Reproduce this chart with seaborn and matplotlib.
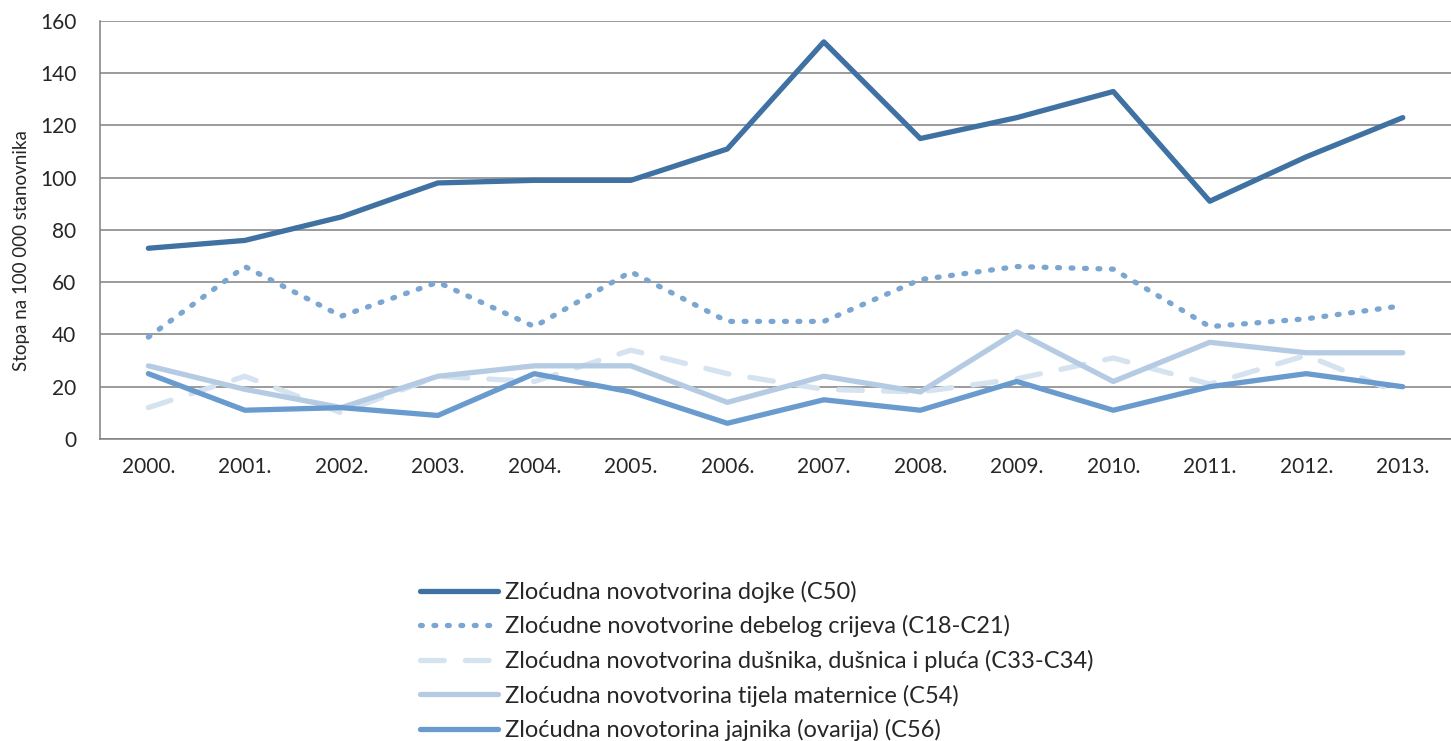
import matplotlib
matplotlib.use("Agg")
import matplotlib.pyplot as plt
import numpy as np
import pandas as pd
import seaborn as sns

years = ["2000.", "2001.", "2002.", "2003.", "2004.", "2005.", "2006.",
         "2007.", "2008.", "2009.", "2010.", "2011.", "2012.", "2013."]

dojke = [73, 76, 85, 98, 99, 99, 111, 152, 115, 123, 133, 91, 108, 123]
debelo_crijevo = [39, 66, 47, 60, 43, 64, 45, 45, 61, 66, 65, 43, 46, 51]
pluca = [12, 24, 10, 24, 22, 34, 25, 19, 18, 23, 31, 21, 32, 17]
maternica = [28, 19, 12, 24, 28, 28, 14, 24, 18, 41, 22, 37, 33, 33]
jajnik = [25, 11, 12, 9, 25, 18, 6, 15, 11, 22, 11, 20, 25, 20]

labels = ["Zloćudna novotvorina dojke (C50)",
          "Zloćudne novotvorine debelog crijeva (C18-C21)",
          "Zloćudna novotvorina dušnika, dušnica i pluća (C33-C34)",
          "Zloćudna novotvorina tijela maternice (C54)",
          "Zloćudna novotorina jajnika (ovarija) (C56)"]

sns.set_style("white")
plt.rcParams["font.family"] = ["Lato", "DejaVu Sans"]

fig = plt.figure(figsize=(14.51, 7.41), dpi=100)
ax = fig.add_axes([0.069, 0.4076, 0.931, 0.5641])

x = np.arange(len(years))
series = [dojke, debelo_crijevo, pluca, maternica, jajnik]
colors = ["#3F71A2", "#7AA6D1", "#D5E2F0", "#B5CBE3", "#6A9BCE"]
styles = ["-", (0, (0.35, 2.2)), (0, (4.5, 4)), "-", "-"]
zorder = [6, 5, 2, 3, 4]

for vals, lab, col, ls, z in zip(series, labels, colors, styles, zorder):
    df = pd.DataFrame({"x": x, "y": vals})
    sns.lineplot(data=df, x="x", y="y", ax=ax, color=col, lw=3.8, linestyle=ls,
                 label=lab, zorder=z, solid_capstyle="round", dash_capstyle="round")

ax.set_xlim(-0.5, 13.5)
ax.set_ylim(0, 160)
ax.set_yticks(range(0, 161, 20))
ax.yaxis.grid(True, color="#808080", lw=1.1)
ax.set_axisbelow(True)
ax.set_xticks(x)
ax.set_xticklabels(years, fontsize=15)
ax.set_xticks(np.arange(-0.5, 14, 1), minor=True)
ax.tick_params(axis="x", which="major", length=0, pad=13)
ax.tick_params(axis="x", which="minor", length=6, color="#808080", width=1.1, direction="out")
ax.tick_params(axis="y", length=9, color="#808080", width=1.1, direction="out", labelsize=15, pad=8)
ax.set_xlabel("")
ax.set_ylabel("Stopa na 100 000 stanovnika", fontsize=13.5, labelpad=10)
ax.yaxis.set_label_coords(-0.052, 0.45)
for side in ["top", "right"]:
    ax.spines[side].set_visible(False)
for side in ["left", "bottom"]:
    ax.spines[side].set_color("#808080")
    ax.spines[side].set_linewidth(1.1)

handles, labs = ax.get_legend_handles_labels()
ax.get_legend().remove()
fig.legend(handles, labs, loc="upper left", bbox_to_anchor=(0.283, 0.229),
           frameon=False, fontsize=17, handlelength=3.3, handletextpad=0.3,
           labelspacing=0.53, borderaxespad=0)

fig.savefig("out.png", dpi=100)
